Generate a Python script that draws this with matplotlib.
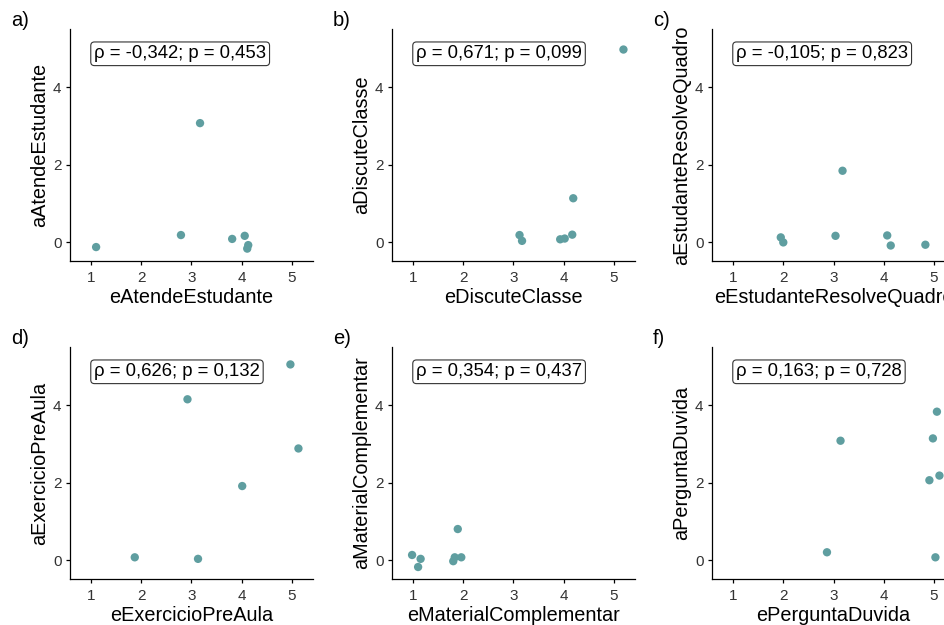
import matplotlib
matplotlib.use("Agg")
import matplotlib.pyplot as plt

plt.rcParams['font.family'] = ['Liberation Sans', 'DejaVu Sans']

panel_labels = ["a)", "b)", "c)", "d)", "e)", "f)"]
x_titles = ["eAtendeEstudante", "eDiscuteClasse", "eEstudanteResolveQuadro",
            "eExercicioPreAula", "eMaterialComplementar", "ePerguntaDuvida"]
y_titles = ["aAtendeEstudante", "aDiscuteClasse", "aEstudanteResolveQuadro",
            "aExercicioPreAula", "aMaterialComplementar", "aPerguntaDuvida"]
cor_labels = ["ρ = -0,342; p = 0,453", "ρ = 0,671; p = 0,099", "ρ = -0,105; p = 0,823",
              "ρ = 0,626; p = 0,132", "ρ = 0,354; p = 0,437", "ρ = 0,163; p = 0,728"]

x_a = [1.10, 2.79, 3.17, 3.81, 4.06, 4.13, 4.11]
y_a = [-0.13, 0.18, 3.07, 0.08, 0.16, -0.08, -0.17]
x_b = [3.12, 3.17, 3.93, 4.02, 4.17, 4.19, 5.19]
y_b = [0.18, 0.03, 0.07, 0.09, 0.19, 1.13, 4.97]
x_c = [1.95, 2.00, 3.04, 3.18, 4.07, 4.14, 4.83]
y_c = [0.12, -0.01, 0.16, 1.84, 0.17, -0.09, -0.07]
x_d = [1.87, 2.92, 3.13, 4.01, 4.97, 5.13]
y_d = [0.07, 4.15, 0.03, 1.91, 5.05, 2.88]
x_e = [0.98, 1.15, 1.10, 1.80, 1.83, 1.96, 1.89]
y_e = [0.13, 0.03, -0.18, -0.03, 0.07, 0.07, 0.80]
x_f = [2.87, 3.14, 4.91, 4.98, 5.06, 5.11, 5.03]
y_f = [0.20, 3.08, 2.06, 3.14, 3.83, 2.18, 0.07]

xs = [x_a, x_b, x_c, x_d, x_e, x_f]
ys = [y_a, y_b, y_c, y_d, y_e, y_f]

W, H = 945, 625
fig = plt.figure(figsize=(W / 100, H / 100), dpi=100)

col_left = [70, 392, 712]
row_top = [29, 347]
aw, ah = 243, 232
point_color = "#5F9EA0"

for i in range(6):
    r, c = divmod(i, 3)
    left = col_left[c]
    top = row_top[r]
    ax = fig.add_axes([left / W, 1 - (top + ah) / H, aw / W, ah / H])
    ax.scatter(xs[i], ys[i], s=36, color=point_color, edgecolors='none', zorder=3, clip_on=False)
    ax.set_xlim(0.58, 5.42)
    ax.set_ylim(-0.49, 5.5)
    ax.set_xticks([1, 2, 3, 4, 5])
    ax.set_yticks([0, 2, 4])
    for s in ['top', 'right']:
        ax.spines[s].set_visible(False)
    for s in ['left', 'bottom']:
        ax.spines[s].set_linewidth(0.9)
        ax.spines[s].set_color('black')
    ax.tick_params(direction='out', length=3.2, width=0.9, labelsize=11,
                   colors='black', labelcolor='#333333')
    ax.tick_params(axis='x', pad=4)
    ax.tick_params(axis='y', pad=3)
    ax.set_xlabel(x_titles[i], fontsize=14.3, labelpad=2.5)
    ax.set_ylabel(y_titles[i], fontsize=14.3, labelpad=3)
    ax.text(1.06, 4.86, cor_labels[i], fontsize=13.3, ha='left', va='center',
            bbox=dict(boxstyle='round,pad=0.18,rounding_size=0.2', fc='white',
                      ec='#333333', lw=0.8), zorder=4)
    fig.text((left - 59) / W, 1 - (top - 8) / H, panel_labels[i], fontsize=14.5,
             ha='left', va='center')

fig.savefig("out.png", dpi=100)
